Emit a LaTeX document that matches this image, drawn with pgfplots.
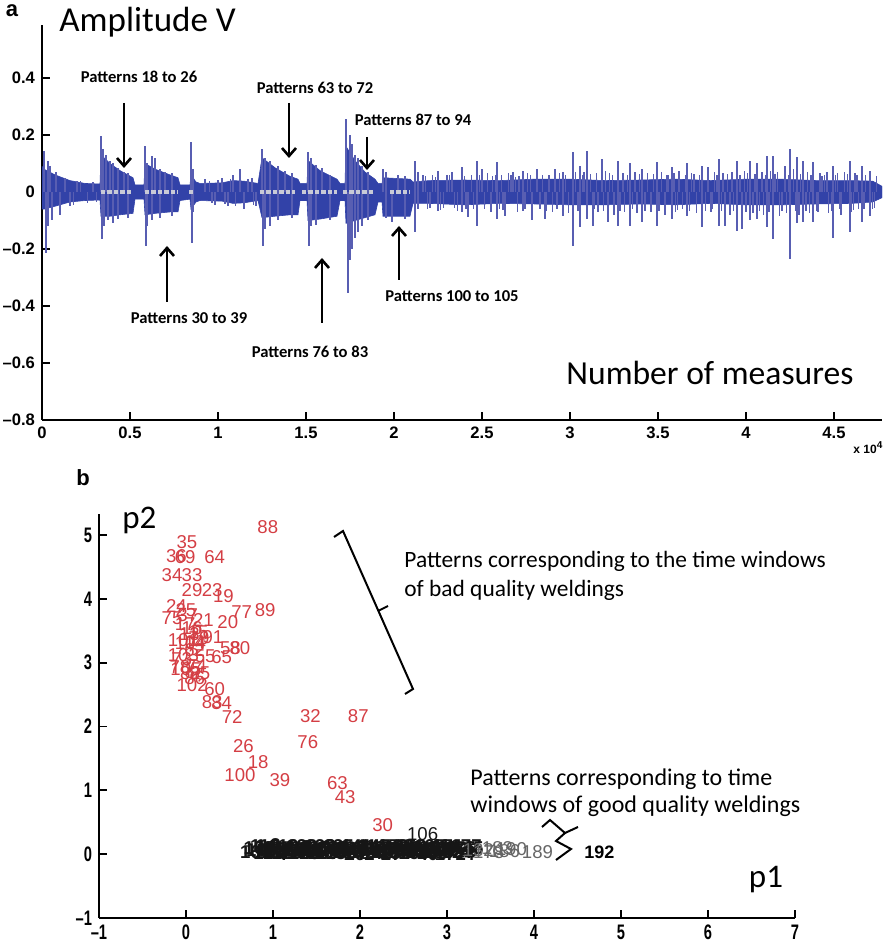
\documentclass[border=0pt]{standalone}
\usepackage{pgfplots}
\pgfplotsset{compat=1.18}
\usepackage{fontspec}
\usetikzlibrary{arrows.meta}
\setmainfont{Carlito}
\newfontfamily\arialf{Liberation Sans}
\newfontfamily\arialn[FakeStretch=0.7]{Liberation Sans}
\definecolor{sigblue}{RGB}{50,66,168}
\definecolor{spikeblue}{RGB}{88,94,178}
\definecolor{patgray}{RGB}{200,202,215}
\definecolor{labred}{RGB}{212,62,68}
\definecolor{labblack}{RGB}{22,22,22}

\pgfplotsset{
  mlab/.style={scale only axis, anchor=south west,
    axis lines=left, axis line style={-, line width=1pt, black},
    tick align=inside, major tick length=4pt,
    tick style={line width=0.9pt, black}},
  pnum/.style={only marks, mark=none, nodes near coords,
    point meta=explicit symbolic,
    every node near coord/.append style={anchor=center, inner sep=0pt,
      font=\arialf\fontsize{9.3}{10}\selectfont, text=#1}},
}

\begin{document}
\begin{tikzpicture}
\useasboundingbox (0,0) rectangle (442.5pt,474pt);

% ---- panel a: signal
\begin{axis}[mlab, at={(21pt,264pt)}, width=420pt, height=197.5pt,
  xmin=0, xmax=47727, ymin=-0.8, ymax=0.586,
  scaled x ticks=false,
  xtick={0,5000,10000,15000,20000,25000,30000,35000,40000,45000},
  xticklabels={0,0.5,1,1.5,2,2.5,3,3.5,4,4.5},
  ytick={-0.8,-0.6,-0.4,-0.2,0,0.2,0.4},
  yticklabels={\textendash0.8,\textendash0.6,\textendash0.4,\textendash0.2,0,0.2,0.4},
  tick label style={font=\arialf\bfseries\fontsize{8.3}{9}\selectfont}]

% core band (upper envelope, then lower envelope back)
\addplot[fill=sigblue, draw=sigblue, line width=0.3pt] coordinates {
(0,0.09)(114,0.08)(739,0.06)(1591,0.04)(2443,0.03)(3295,0.028)
(3352,0.13)(3864,0.10)(4432,0.075)(5170,0.05)(5284,0.025)(5795,0.025)
(5852,0.10)(6420,0.08)(7273,0.06)(7727,0.05)(7841,0.025)(8409,0.025)
(8466,0.06)(8750,0.035)(8977,0.03)(10227,0.032)(10852,0.04)(11477,0.038)(12273,0.03)
(12500,0.12)(13239,0.085)(14091,0.055)(14545,0.045)(14659,0.03)(15057,0.03)
(15114,0.11)(15795,0.075)(16761,0.045)(16932,0.03)(17216,0.03)
(17273,0.16)(17784,0.11)(18352,0.07)(18920,0.045)(19091,0.03)(19318,0.03)
(19375,0.05)(20909,0.045)(21080,0.035)
(22000,0.04)(24000,0.042)(26000,0.04)(28000,0.045)(30000,0.045)(32000,0.04)
(34000,0.042)(36000,0.045)(38000,0.04)(40000,0.045)(42000,0.045)(44000,0.04)
(46000,0.04)(47200,0.038)(47727,0.02)
(47727,-0.02)(47200,-0.035)(46000,-0.04)(44000,-0.042)(42000,-0.045)(40000,-0.045)
(38000,-0.04)(36000,-0.045)(34000,-0.042)(32000,-0.045)(30000,-0.045)(28000,-0.042)
(26000,-0.04)(24000,-0.045)(22000,-0.04)
(21080,-0.04)(20909,-0.085)(19375,-0.085)(19318,-0.035)(19091,-0.035)(18920,-0.08)
(18352,-0.09)(17784,-0.10)(17273,-0.11)(17216,-0.03)(16932,-0.03)(16761,-0.085)
(15795,-0.095)(15114,-0.10)(15057,-0.03)(14659,-0.03)(14545,-0.08)(14091,-0.08)
(13239,-0.085)(12500,-0.09)(12273,-0.03)(11477,-0.038)(10852,-0.04)(10227,-0.032)
(8977,-0.03)(8750,-0.035)(8466,-0.06)(8409,-0.025)(7841,-0.03)(7727,-0.07)
(7273,-0.07)(6420,-0.075)(5852,-0.08)(5795,-0.025)(5284,-0.025)(5170,-0.075)
(4432,-0.08)(3864,-0.085)(3352,-0.085)(3295,-0.028)(2443,-0.03)(1591,-0.035)
(739,-0.05)(114,-0.06)(0,-0.06)};

% spikes
\addplot[ycomb, spikeblue, line width=0.7pt] coordinates {
(114,0.145)(227,-0.215)(341,0.11)(341,-0.12)(455,0.09)(568,-0.10)(795,0.07)
(1023,-0.08)(1307,0.05)(1591,-0.05)(2000,0.04)(2600,-0.04)
(3352,0.197)(3409,-0.165)(3466,0.15)(3523,-0.12)(3636,0.13)(3750,-0.10)(3864,0.11)
(4034,0.10)(4034,-0.11)(4318,0.085)(4318,-0.095)(4659,0.07)(4886,0.065)(4886,-0.09)
(5852,0.16)(5909,-0.19)(5966,0.10)(5966,-0.12)(6250,0.125)(6250,-0.10)(6420,0.12)
(6705,0.08)(6705,-0.09)(6989,0.07)(7386,0.065)(7386,-0.085)
(8466,0.175)(8523,-0.18)(8580,0.08)(8580,-0.07)
(9261,0.045)(9830,-0.045)(10227,0.05)(10568,-0.05)(10852,0.06)(11250,0.08)
(11477,-0.06)(11932,0.05)(12159,-0.05)
(12500,0.15)(12557,-0.19)(12670,0.12)(12670,-0.13)(12955,0.11)(12955,-0.12)
(13409,0.09)(13409,-0.10)(13807,0.075)(14205,0.065)(14205,-0.09)
(15114,0.14)(15170,-0.19)(15284,0.12)(15284,-0.12)(15568,0.095)(15568,-0.115)
(15909,0.085)(16364,0.06)(16364,-0.10)
(17273,0.256)(17386,-0.355)(17500,0.20)(17500,-0.24)(17614,0.17)(17614,-0.20)
(17784,0.13)(17784,-0.16)(17955,0.12)(17955,-0.14)(18182,0.09)(18182,-0.12)
(18523,0.07)(18523,-0.10)
(19375,0.08)(19545,0.07)(19545,-0.09)(19886,-0.105)(20227,0.06)(20625,0.055)(20625,-0.095)
(21193,0.11)(21193,-0.14)(21364,0.07)(21364,-0.06)
(22500,0.074)(22500,-0.066)(23295,0.07)(23864,0.088)(23864,-0.07)(24205,-0.088)
(24716,0.11)(24716,-0.12)(25000,0.08)(25852,0.105)(25852,-0.095)(26307,-0.084)
(26761,0.07)(27330,0.074)(27330,-0.066)(27841,-0.10)(28125,0.08)(28580,-0.095)
(29148,0.08)(29602,0.07)(29602,-0.084)(30170,0.14)(30170,-0.19)(30568,0.09)
(30568,-0.123)(30966,0.144)(30966,-0.095)(31307,-0.12)(31818,0.116)(32159,-0.105)
(32727,0.11)(32727,-0.12)(33409,0.10)(33409,-0.12)(34091,0.08)(34091,-0.105)
(34943,0.105)(34943,-0.12)(35795,0.088)(35795,-0.095)(36648,0.10)(36648,-0.084)
(37500,0.09)(37500,-0.123)(37841,0.088)(38466,0.116)(38466,-0.12)(38807,-0.12)
(39489,0.11)(39489,-0.137)(39773,-0.13)(40227,0.11)(40227,-0.10)(40625,0.10)
(40625,-0.095)(41193,0.126)(41193,-0.123)(41534,0.126)(41534,-0.165)(42216,0.09)
(42500,0.15)(42500,-0.235)(42898,0.122)(42898,-0.11)(43239,0.11)(43239,-0.105)
(43807,0.105)(43807,-0.105)(44318,0.056)(44943,0.09)(44943,-0.16)(45909,0.11)
(45909,-0.14)(46591,0.09)(46591,-0.105)(47045,0.075)(47045,-0.084)
(21800,0.055)(21900,-0.06)(22200,0.06)(22800,-0.055)(23000,0.06)(23600,-0.065)
(24000,0.055)(24400,0.06)(24500,-0.06)(25300,0.065)(25500,-0.07)(25600,0.055)
(26000,-0.06)(26100,0.06)(26500,0.065)(27000,-0.07)(27100,0.055)(27600,0.065)
(28300,-0.06)(28800,0.06)(29000,-0.07)(29400,0.065)(29900,-0.075)(30300,0.07)
(30800,0.07)(31000,-0.065)(31500,0.065)(31600,-0.07)(32000,0.075)(32400,0.06)
(32500,-0.08)(33000,0.065)(33100,-0.07)(33700,0.07)(33800,-0.075)(34400,0.065)
(34600,-0.07)(35200,0.07)(35400,-0.08)(35600,0.06)(36000,-0.07)(36200,0.075)
(36400,-0.06)(36900,0.065)(37200,-0.075)(38000,-0.07)(38200,0.07)(38700,0.065)
(39100,-0.08)(39200,0.07)(39900,0.075)(40000,-0.07)(40400,-0.075)(40900,0.07)
(41000,-0.08)(41400,0.075)(41800,0.07)(41900,-0.085)(42300,-0.075)(42700,0.08)
(43000,-0.08)(43500,0.07)(43600,-0.075)(44100,-0.07)(44200,0.065)(44600,0.07)
(44700,-0.075)(45200,0.065)(45400,-0.08)(45600,0.07)(46000,-0.07)(46200,0.065)
(46400,-0.06)(46800,0.06)(47200,-0.06)(47400,0.055)
(21650,0.058)(22050,-0.055)(22350,0.052)(22650,-0.062)(23150,0.058)(23450,-0.055)
(24100,-0.058)(24850,0.058)(25150,-0.06)(25750,0.06)(26200,-0.062)(26650,0.058)
(26900,0.052)(27450,-0.058)(27750,0.06)(28450,0.058)(28650,-0.065)(29250,-0.06)
(29750,0.058)(30450,-0.065)(30700,0.06)(31150,0.062)(31400,-0.06)(31900,-0.065)
(32250,0.065)(32850,-0.065)(33250,0.06)(33550,-0.06)(33950,0.062)(34250,-0.065)
(34750,0.062)(35050,-0.065)(35500,0.058)(35900,0.065)(36100,-0.062)(36550,0.06)
(36800,-0.065)(37050,0.062)(37350,0.058)(37700,-0.065)(38100,-0.06)(38350,0.06)
(38600,-0.065)(38950,0.062)(39300,-0.065)(39650,0.06)(40100,0.065)(40500,0.062)
(40750,-0.065)(41100,0.06)(41300,-0.07)(41650,0.062)(42050,-0.065)(42400,0.06)
(42800,-0.065)(43100,0.062)(43400,-0.065)(43700,0.06)(44000,-0.065)(44450,0.058)
(44850,-0.065)(45100,0.06)(45300,-0.06)(45750,0.062)(46100,-0.062)(46300,0.058)
(46700,-0.06)(47000,0.058)(47300,-0.055)
(9500,0.04)(9650,-0.04)(10000,0.042)(10400,-0.042)(10700,0.045)(11000,-0.05)
(11700,0.045)(12000,-0.045)(1800,-0.045)(2200,0.04)(2900,0.035)(3100,-0.035)};

% light pattern windows along zero
\addplot[patgray, line width=2pt, dash pattern=on 2.2pt off 1pt] coordinates {(3352,0)(5170,0)};
\addplot[patgray, line width=2pt, dash pattern=on 2.2pt off 1pt] coordinates {(5852,0)(7727,0)};
\addplot[patgray, line width=2pt] coordinates {(8380,0)(8560,0)};
\addplot[patgray, line width=2pt, dash pattern=on 2.2pt off 1pt] coordinates {(12386,0)(14375,0)};
\addplot[patgray, line width=2pt, dash pattern=on 2.2pt off 1pt] coordinates {(14773,0)(16761,0)};
\addplot[patgray, line width=2pt, dash pattern=on 2.2pt off 1pt] coordinates {(17102,0)(18807,0)};
\addplot[patgray, line width=2pt, dash pattern=on 2.2pt off 1pt] coordinates {(19773,0)(20909,0)};
\end{axis}

% ---- panel b: projection
\begin{axis}[mlab, at={(49.5pt,15pt)}, width=348pt, height=202pt,
  xmin=-1, xmax=7, ymin=-1, ymax=5.33, clip=false,
  xtick={-1,0,1,2,3,4,5,6,7},
  xticklabels={\textendash1,0,1,2,3,4,5,6,7},
  ytick={-1,0,1,2,3,4,5},
  yticklabels={\textendash1,0,1,2,3,4,5},
  tick label style={font=\arialn\bfseries\fontsize{10.5}{12}\selectfont}]

\addplot[pnum=labblack, every node near coord/.append style={font=\arialf\bfseries\fontsize{9.3}{10}\selectfont}] table[meta=lab] {
x y lab
0.80 0.03 107
0.84 0.10 108
0.87 0.06 109
0.91 0.13 110
0.94 0.01 111
0.98 0.08 112
1.01 0.03 113
1.05 0.10 114
1.08 0.06 115
1.12 0.13 116
1.15 0.01 117
1.19 0.08 118
1.22 0.03 119
1.26 0.10 120
1.29 0.06 121
1.33 0.13 122
1.36 0.01 123
1.40 0.08 124
1.43 0.03 125
1.47 0.10 126
1.50 0.06 127
1.54 0.13 128
1.57 0.01 129
1.61 0.08 130
1.64 0.03 131
1.68 0.10 133
1.71 0.06 134
1.75 0.13 135
1.78 0.01 136
1.82 0.08 137
1.85 0.03 138
1.89 0.10 139
1.92 0.06 140
1.96 0.13 141
1.99 0.01 142
2.03 0.08 143
2.06 0.03 144
2.10 0.10 145
2.13 0.06 146
2.17 0.13 147
2.20 0.01 148
2.24 0.08 149
2.27 0.03 150
2.31 0.10 151
2.34 0.06 152
2.38 0.13 153
2.41 0.01 154
2.45 0.08 155
2.48 0.03 156
2.52 0.10 157
2.55 0.06 158
2.59 0.13 159
2.62 0.01 160
2.66 0.08 161
2.69 0.03 162
2.73 0.10 163
2.76 0.06 164
2.80 0.13 165
2.83 0.01 166
2.87 0.08 167
2.90 0.03 168
2.94 0.10 169
2.97 0.06 170
3.01 0.13 171
3.04 0.01 172
3.08 0.08 173
3.11 0.03 174
3.15 0.10 175
3.18 0.06 176
3.22 0.13 177
0.86 0.12 1
0.95 0.04 2
1.03 0.14 3
1.10 0.00 4
1.24 0.05 5
1.38 0.11 6
1.52 0.02 7
1.66 0.12 8
1.80 0.05 9
1.94 0.00 10
2.08 0.12 11
2.22 0.04 12
2.36 0.00 27
2.50 0.12 28
2.64 0.05 31
2.78 0.00 40
2.92 0.12 41
3.06 0.04 42
3.20 0.00 44
3.30 0.09 45
};
\addplot[pnum=labblack] table[meta=lab] {
x y lab
2.72 0.31 106
};
\addplot[pnum=black!60] table[meta=lab] {
x y lab
3.36 0.07 132
3.48 0.04 178
3.58 0.09 183
3.66 0.05 186
3.74 0.08 190
4.04 0.03 189
};
\addplot[pnum=labred] table[meta=lab] {
x y lab
0.94 5.12 88
0.01 4.89 35
0.33 4.65 64
-0.11 4.67 36
-0.01 4.65 69
-0.16 4.37 34
0.07 4.37 33
0.07 4.14 29
0.30 4.14 23
0.43 4.04 19
0.64 3.79 77
0.91 3.82 89
-0.11 3.89 24
0.00 3.82 25
-0.16 3.70 75
0.20 3.67 21
0.48 3.64 20
0.31 3.40 91
-0.03 3.35 101
0.10 3.32 14
0.14 3.48 15
0.07 3.54 16
-0.01 3.60 17
0.04 3.45 13
0.05 3.30 104
0.15 3.38 79
0.02 3.75 37
0.10 3.20 62
0.51 3.23 58
0.62 3.23 80
0.22 3.10 55
0.41 3.09 65
-0.03 3.12 103
-0.05 3.05 73
-0.07 2.93 78
0.05 2.84 82
0.16 2.84 85
0.10 2.76 86
0.12 2.95 74
0.00 2.90 105
0.07 2.65 102
0.33 2.59 60
0.30 2.38 83
0.41 2.37 84
0.53 2.15 72
1.43 2.16 32
1.98 2.16 87
0.66 1.69 26
1.40 1.76 76
0.83 1.44 18
0.62 1.24 100
1.08 1.16 39
1.74 1.11 63
1.83 0.89 43
2.26 0.45 30
};
\end{axis}

% ---- annotations, in pixel units of the reference (origin top left)
\begin{scope}[shift={(0pt,474pt)}, x=0.5pt, y=-0.5pt]
\node[font=\arialf\bfseries\fontsize{11}{12}\selectfont, inner sep=0] at (12,11) {a};
\node[font=\arialf\bfseries\fontsize{11}{12}\selectfont, inner sep=0] at (83,478) {b};
\node[anchor=west, inner sep=0, font=\fontsize{17.5}{19}\selectfont] at (59,22) {Amplitude V};
\node[anchor=west, inner sep=0, font=\fontsize{16.8}{19}\selectfont] at (566,373) {Number of measures};
\node[anchor=west, inner sep=0, font=\arialf\bfseries\fontsize{6}{7}\selectfont] at (853,448) {x 10\textsuperscript{4}};

\begin{scope}[font=\bfseries\fontsize{8.3}{10}\selectfont]
\node at (139,77) {Patterns 18 to 26};
\node at (315,88) {Patterns 63 to 72};
\node at (413,120) {Patterns 87 to 94};
\node at (189,318) {Patterns 30 to 39};
\node at (310,352) {Patterns 76 to 83};
\node at (452,296) {Patterns 100 to 105};
\end{scope}
\begin{scope}[line width=1.3pt, -{Straight Barb[length=4pt, width=7pt, line width=1.3pt]}]
\draw (124,103) -- (124,168);
\draw (289,103) -- (289,158);
\draw (367,137) -- (367,170);
\draw (167,302) -- (167,246);
\draw (322,323) -- (322,258);
\draw (399,280) -- (399,226);
\end{scope}

\node[anchor=west, inner sep=0, font=\fontsize{16.5}{18}\selectfont] at (122,520) {p2};
\node[inner sep=0, font=\fontsize{16.5}{18}\selectfont] at (766,880) {p1};
\begin{scope}[font=\fontsize{11.7}{13}\selectfont]
\node[anchor=west, inner sep=0] at (404,561) {Patterns corresponding to the time windows};
\node[anchor=west, inner sep=0] at (404,590) {of bad quality weldings};
\end{scope}
\begin{scope}[font=\fontsize{12}{14}\selectfont]
\node[anchor=west, inner sep=0] at (470,779) {Patterns corresponding to time};
\node[anchor=west, inner sep=0] at (470,806) {windows of good quality weldings};
\end{scope}
\draw[line width=1pt] (334,537) -- (343,531) -- (413,689) -- (405,694);
\draw[line width=1pt] (378,611) -- (388,606);
\draw[line width=1pt] (542,827) -- (550,820) -- (565,833) -- (578,827);
\draw[line width=1pt] (565,833) -- (556,841) -- (571,849) -- (556,860);
\node[anchor=west, inner sep=0, font=\arialf\bfseries\fontsize{9}{10}\selectfont] at (584,852) {192};
\end{scope}
\end{tikzpicture}
\end{document}
